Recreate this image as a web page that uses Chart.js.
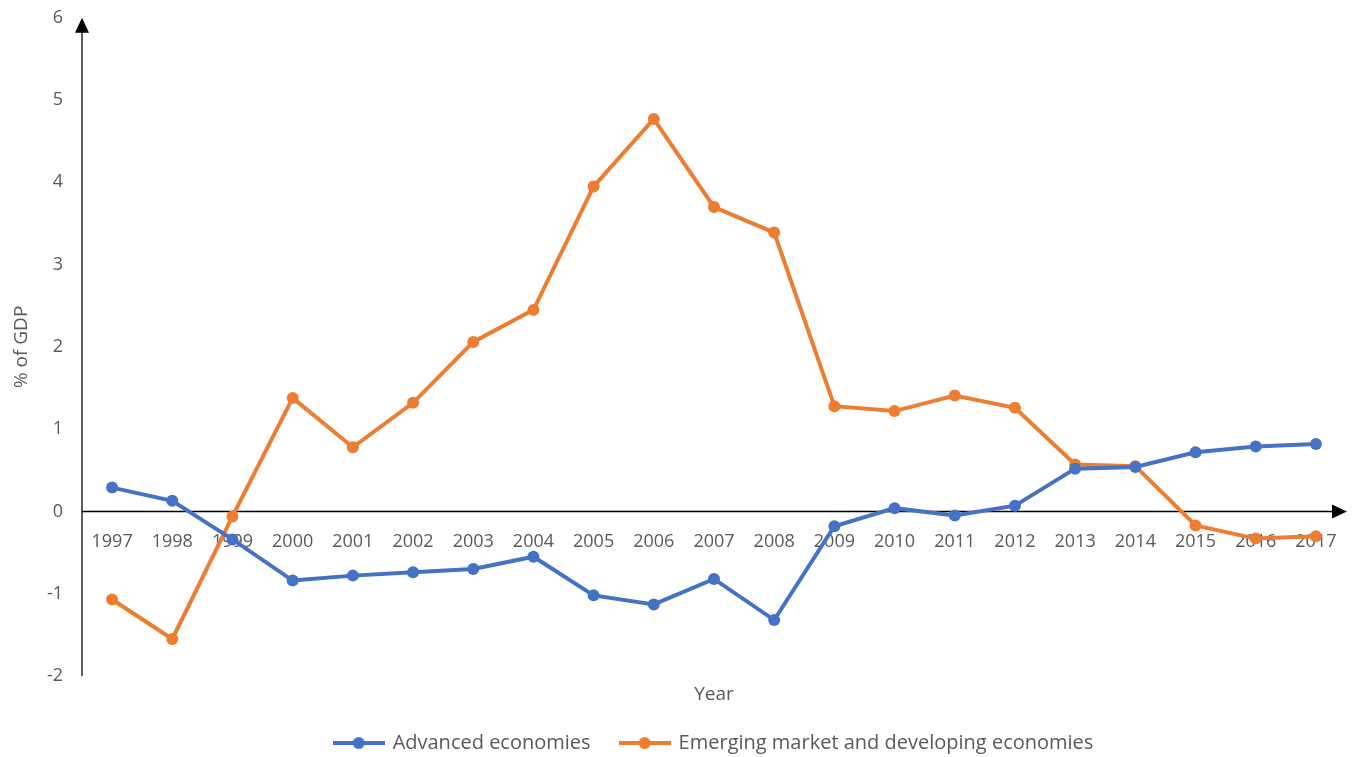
<!DOCTYPE html>
<html lang="en">
<head>
  <meta charset="UTF-8" />
  <title>Current account balance, % of GDP</title>
  <script src="https://cdn.jsdelivr.net/npm/chart.js"></script>
  <style>
    html, body { margin: 0; padding: 0; background: #fff; overflow: hidden; }
    #wrap { width: 1357px; height: 761px; margin-top: -4px; }
  </style>
</head>
<body>

  <div id="wrap"><canvas id="balanceChart"></canvas></div>

  <script>
    const years = ["1997", "1998", "1999", "2000", "2001", "2002", "2003", "2004", "2005", "2006", "2007",
                   "2008", "2009", "2010", "2011", "2012", "2013", "2014", "2015", "2016", "2017"];
    const advanced = [0.29, 0.13, -0.34, -0.84, -0.78, -0.74, -0.70, -0.55, -1.02, -1.13, -0.82,
                      -1.32, -0.18, 0.04, -0.05, 0.07, 0.52, 0.54, 0.72, 0.79, 0.82];
    const emerging = [-1.07, -1.55, -0.06, 1.38, 0.78, 1.32, 2.06, 2.45, 3.95, 4.77, 3.70,
                      3.39, 1.28, 1.22, 1.41, 1.26, 0.57, 0.55, -0.17, -0.33, -0.30];
    const yMin = -2;
    const yMax = 6;

    const BLUE = "#4472C4";
    const ORANGE = "#ED7D31";
    const GREY = "#595959";
    const FONT = "'Open Sans', sans-serif";

    // little line + dot swatch for the legend, like the series themselves
    function swatch(color) {
      const c = document.createElement("canvas");
      c.width = 52;
      c.height = 14;
      const g = c.getContext("2d");
      g.strokeStyle = color;
      g.lineWidth = 4;
      g.beginPath();
      g.moveTo(0, 7);
      g.lineTo(52, 7);
      g.stroke();
      g.fillStyle = color;
      g.beginPath();
      g.arc(26, 7, 6, 0, Math.PI * 2);
      g.fill();
      return c;
    }

    // axes through zero with arrow heads, year labels under the zero line
    const zeroAxes = {
      id: "zeroAxes",
      beforeDatasetsDraw(chart) {
        const { ctx, chartArea, scales } = chart;
        const x = scales.x;
        const y = scales.y;
        const y0 = y.getPixelForValue(0);
        const left = chartArea.left;
        const right = chartArea.right;
        const top = y.getPixelForValue(yMax);
        const bottom = y.getPixelForValue(yMin);

        ctx.save();
        ctx.strokeStyle = "#262626";
        ctx.fillStyle = "#000";
        ctx.lineWidth = 1.5;

        // vertical axis
        ctx.beginPath();
        ctx.moveTo(left, bottom);
        ctx.lineTo(left, top + 10);
        ctx.stroke();
        ctx.beginPath();
        ctx.moveTo(left, top);
        ctx.lineTo(left - 7, top + 15);
        ctx.lineTo(left + 7, top + 15);
        ctx.closePath();
        ctx.fill();

        // horizontal axis at 0
        ctx.strokeStyle = "#000";
        ctx.beginPath();
        ctx.moveTo(left, y0);
        ctx.lineTo(right - 10, y0);
        ctx.stroke();
        ctx.beginPath();
        ctx.moveTo(right + 1, y0);
        ctx.lineTo(right - 14, y0 - 7);
        ctx.lineTo(right - 14, y0 + 7);
        ctx.closePath();
        ctx.fill();

        // year labels
        ctx.fillStyle = GREY;
        ctx.font = "18px " + FONT;
        ctx.textAlign = "center";
        ctx.textBaseline = "middle";
        years.forEach((yr, i) => {
          ctx.fillText(yr, x.getPixelForValue(i), y0 + 30);
        });
        ctx.restore();
      }
    };

    new Chart(document.getElementById("balanceChart"), {
      type: "line",
      data: {
        labels: years,
        datasets: [
          {
            label: "Advanced economies",
            data: advanced,
            borderColor: BLUE,
            backgroundColor: BLUE,
            borderWidth: 4,
            pointRadius: 6,
            pointBorderWidth: 0,
            tension: 0
          },
          {
            label: "Emerging market and developing economies",
            data: emerging,
            borderColor: ORANGE,
            backgroundColor: ORANGE,
            borderWidth: 4,
            pointRadius: 6,
            pointBorderWidth: 0,
            tension: 0
          }
        ]
      },
      options: {
        responsive: true,
        maintainAspectRatio: false,
        animation: false,
        layout: { padding: { top: 0, right: 11, left: 10, bottom: -6 } },
        scales: {
          x: {
            offset: true,
            grid: { display: false },
            border: { display: false },
            ticks: { display: false },
            title: {
              display: true,
              text: "Year",
              color: GREY,
              font: { family: FONT, size: 19 },
              padding: { top: 0, bottom: -3 }
            },
            afterFit(scale) { scale.height = 27; }
          },
          y: {
            min: yMin,
            max: yMax,
            grid: { display: false },
            border: { display: false },
            ticks: {
              stepSize: 1,
              color: GREY,
              font: { family: FONT, size: 18 },
              padding: 11
            },
            title: {
              display: true,
              text: "% of GDP",
              color: GREY,
              font: { family: FONT, size: 19 },
              padding: { top: 0, bottom: 10 }
            },
            afterFit(scale) { scale.width = 72; }
          }
        },
        plugins: {
          legend: {
            position: "bottom",
            fullSize: false,
            labels: {
              color: GREY,
              font: { family: FONT, size: 20 },
              usePointStyle: true,
              pointStyleWidth: 48,
              padding: 30,
              generateLabels(chart) {
                return chart.data.datasets.map((ds, i) => ({
                  text: ds.label,
                  fontColor: GREY,
                  pointStyle: swatch(ds.borderColor),
                  lineWidth: 0,
                  strokeStyle: "transparent",
                  fillStyle: ds.borderColor,
                  datasetIndex: i,
                  hidden: false
                }));
              }
            }
          },
          tooltip: { enabled: false }
        }
      },
      plugins: [zeroAxes]
    });
  </script>

</body>
</html>
